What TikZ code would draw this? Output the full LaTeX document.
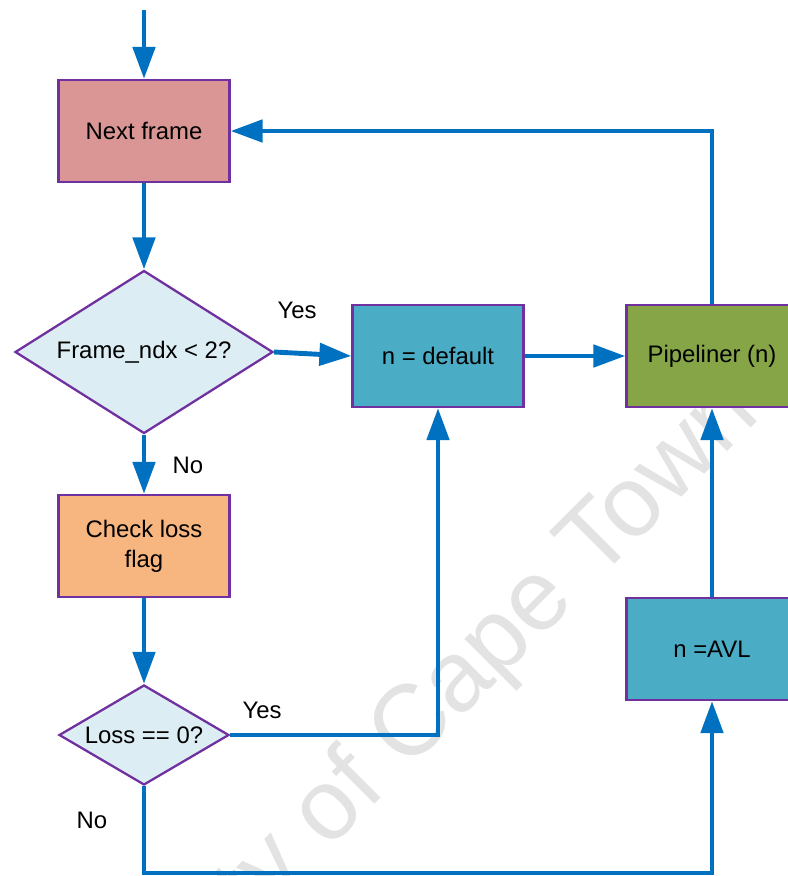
\documentclass[tikz,border=0pt]{standalone}
\usepackage{fontspec}
\setmainfont{Liberation Sans}
\usetikzlibrary{positioning,arrows.meta,shapes.geometric}

\definecolor{flowblue}{HTML}{0070C0}
\definecolor{edgepurple}{HTML}{7030A0}
\definecolor{nextfill}{HTML}{D99694}
\definecolor{decfill}{HTML}{DCEEF3}
\definecolor{checkfill}{HTML}{F7B680}
\definecolor{setfill}{HTML}{4BACC6}
\definecolor{pipefill}{HTML}{86A546}

\begin{document}
\begin{tikzpicture}[x=0.02cm,y=-0.02cm,
  procbox/.style={rectangle,draw=edgepurple,line width=1.3pt,fill=#1,minimum width=3.42cm,minimum height=2.04cm,inner sep=0pt,align=center,font=\fontsize{13.6}{17}\selectfont},
  decbox/.style={diamond,aspect=1.7,draw=edgepurple,line width=1.3pt,fill=decfill,inner sep=0pt,align=center,font=\fontsize{13.6}{17}\selectfont},
  flow/.style={-{Triangle[length=0.64cm,width=0.44cm]},line width=2.8pt,draw=flowblue},
  lab/.style={font=\fontsize{13.6}{16}\selectfont},
  watermark/.style={text=black!11,font=\fontsize{57}{60}\selectfont,inner sep=0pt},
]
\useasboundingbox (0,0) rectangle (788,876);
\clip (0,0) rectangle (788,876);

% === WATERMARK (behind everything) ===
\node[watermark,anchor=base west,rotate=45] (wm) at (-2,1181) {University of Cape Town};

% === LEFT COLUMN ===
\coordinate (start) at (144,10);
\node[procbox=nextfill] (next) at (144,131) {Next frame};
\node[decbox,minimum width=5.16cm,minimum height=3.26cm] (dec1) at (144,352) {Frame\_ndx < 2?};
\node[procbox=checkfill] (check) at (144,546) {Check loss\\flag};
\node[decbox,minimum width=3.4cm,minimum height=2.0cm] (dec2) at (144,735) {Loss == 0?};

% === RIGHT SIDE ===
\node[procbox=setfill] (ndef) at (438,356) {n = default};
\node[procbox=pipefill] (pipe) at (712,356) {Pipeliner (n)};
\node[procbox=setfill] (navl) at (712,649) {n =AVL};

% === CONNECTORS ===
\draw[flow] (start) -- (next);
\draw[flow] (next) -- (dec1);
\draw[flow] (dec1.east) -- (ndef.west);
\draw[flow] (ndef) -- (pipe);
\draw[flow] (pipe.north) |- (next.east);
\draw[flow] (dec1) -- (check);
\draw[flow] (check) -- (dec2);
\draw[flow] (dec2.east) -| (ndef.south);
\coordinate (low) at (144,873);
\draw[flow] (dec2.south) -- (low) -| (navl.south);
\draw[flow] (navl) -- (pipe);

% branch labels
\node[lab] (yes1) at (297,310) {Yes};
\node[lab] (no1) at (188,465) {No};
\node[lab] (yes2) at (262,710) {Yes};
\node[lab] (no2) at (92,820) {No};

\end{tikzpicture}
\end{document}
